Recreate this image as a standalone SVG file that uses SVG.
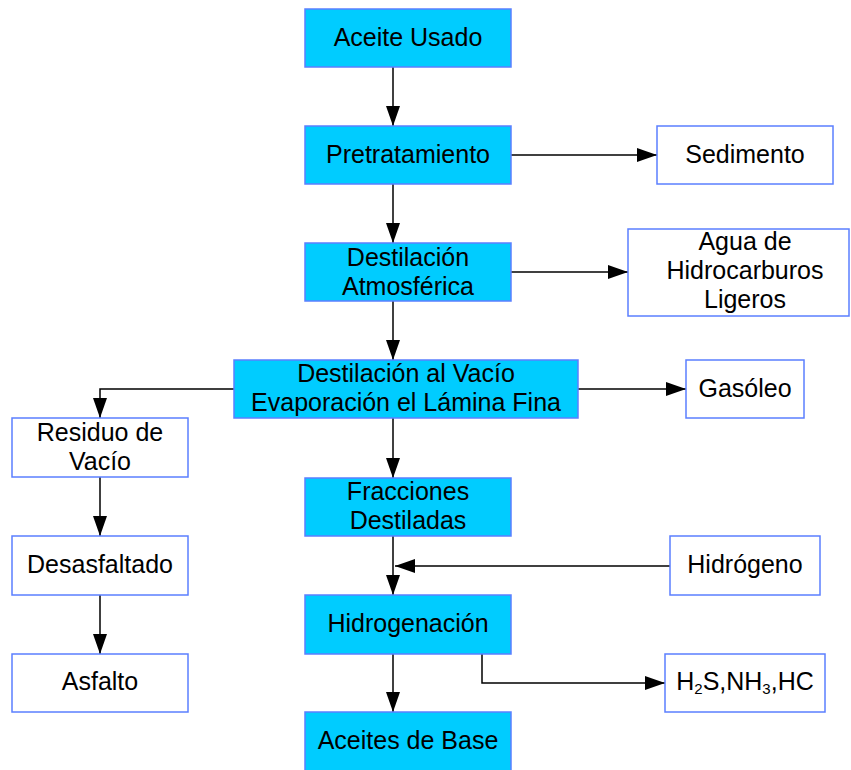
<svg xmlns="http://www.w3.org/2000/svg" width="851" height="770" viewBox="0 0 851 770">
  <defs>
    <marker id="arrow" markerUnits="userSpaceOnUse" markerWidth="20" markerHeight="14" refX="20" refY="7" orient="auto">
      <path d="M0,0 L20,7 L0,14 z" fill="#000"/>
    </marker>
  </defs>
  <style>
    .proc rect { fill: #00ccff; stroke: #5b7fff; stroke-width: 1.5; }
    .out rect { fill: #ffffff; stroke: #5b7fff; stroke-width: 1.5; }
    text { font-family: "Liberation Sans", Arial, sans-serif; font-size: 25px; fill: #000; text-anchor: middle; }
    .sub { font-size: 15px; }
    #connectors path { fill: none; stroke: #000; stroke-width: 1.5; marker-end: url(#arrow); }
  </style>
  <rect width="851" height="770" fill="#ffffff"/>

  <g id="connectors">
    <path d="M393,67 V126"/>
    <path d="M511,155 H657"/>
    <path d="M393,184 V243"/>
    <path d="M511,272 H628"/>
    <path d="M393,301 V360"/>
    <path d="M578,389 H686"/>
    <path d="M234,389 H100 V418"/>
    <path d="M393,418 V478"/>
    <path d="M100,477 V536"/>
    <path d="M100,595 V654"/>
    <path d="M393,536 V595"/>
    <path d="M670,566 H395"/>
    <path d="M393,654 V712"/>
    <path d="M482,654 V683 H665"/>
  </g>

  <g id="aceite-usado" class="proc">
    <rect x="305" y="9" width="206" height="58"/>
    <text x="408" y="46">Aceite Usado</text>
  </g>
  <g id="pretratamiento" class="proc">
    <rect x="305" y="126" width="206" height="58"/>
    <text x="408" y="163">Pretratamiento</text>
  </g>
  <g id="sedimento" class="out">
    <rect x="657" y="126" width="176" height="58"/>
    <text x="745" y="163">Sedimento</text>
  </g>
  <g id="destilacion-atmosferica" class="proc">
    <rect x="305" y="243" width="206" height="58"/>
    <text x="408" y="266">Destilación</text>
    <text x="408" y="295">Atmosférica</text>
  </g>
  <g id="agua-hidrocarburos" class="out">
    <rect x="628" y="229" width="221" height="87"/>
    <text x="745" y="250">Agua de</text>
    <text x="745" y="279">Hidrocarburos</text>
    <text x="745" y="308">Ligeros</text>
  </g>
  <g id="destilacion-vacio" class="proc">
    <rect x="234" y="360" width="344" height="58"/>
    <text x="406" y="382">Destilación al Vacío</text>
    <text x="406" y="411">Evaporación el Lámina Fina</text>
  </g>
  <g id="gasoleo" class="out">
    <rect x="686" y="360" width="118" height="58"/>
    <text x="745" y="397">Gasóleo</text>
  </g>
  <g id="residuo-vacio" class="out">
    <rect x="12" y="418" width="176" height="59"/>
    <text x="100" y="441">Residuo de</text>
    <text x="100" y="470">Vacío</text>
  </g>
  <g id="fracciones-destiladas" class="proc">
    <rect x="305" y="478" width="206" height="58"/>
    <text x="408" y="500">Fracciones</text>
    <text x="408" y="529">Destiladas</text>
  </g>
  <g id="desasfaltado" class="out">
    <rect x="12" y="536" width="176" height="59"/>
    <text x="100" y="573">Desasfaltado</text>
  </g>
  <g id="hidrogeno" class="out">
    <rect x="670" y="536" width="150" height="59"/>
    <text x="745" y="573">Hidrógeno</text>
  </g>
  <g id="hidrogenacion" class="proc">
    <rect x="305" y="595" width="206" height="59"/>
    <text x="408" y="632">Hidrogenación</text>
  </g>
  <g id="asfalto" class="out">
    <rect x="12" y="654" width="176" height="58"/>
    <text x="100" y="690">Asfalto</text>
  </g>
  <g id="gases" class="out">
    <rect x="665" y="654" width="160" height="58"/>
    <text x="745" y="690">H<tspan class="sub" dy="4">2</tspan><tspan dy="-4">S,NH</tspan><tspan class="sub" dy="4">3</tspan><tspan dy="-4">,HC</tspan></text>
  </g>
  <g id="aceites-base" class="proc">
    <rect x="305" y="712" width="206" height="60"/>
    <text x="408" y="749">Aceites de Base</text>
  </g>
</svg>
